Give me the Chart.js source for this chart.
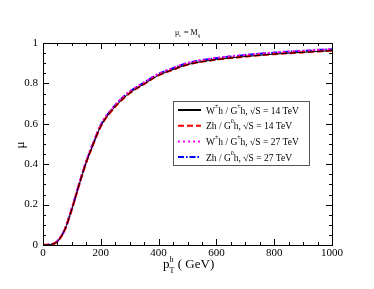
<!DOCTYPE html>
<html>
<head>
<meta charset="utf-8">
<script src="https://cdn.jsdelivr.net/npm/chart.js@4"></script>
<style>
  html, body { margin: 0; padding: 0; background: #fff; }
  #wrap { width: 374px; height: 289px; }
</style>
</head>
<body>
<div id="wrap"><canvas id="mu-chart" width="374" height="289"></canvas></div>
<script>
// pT of the Higgs (GeV)
const ptValues = [0, 25, 50, 75, 100, 125, 150, 175, 200, 250, 300, 350, 400, 450, 500, 600, 700, 800, 900, 1000];
// ratio mu
const wh14 = [0, 0.002, 0.018, 0.074, 0.178, 0.298, 0.41, 0.503, 0.588, 0.685, 0.752, 0.797, 0.84, 0.868, 0.893, 0.918, 0.933, 0.945, 0.954, 0.962];
const zh14 = [0, 0.002, 0.018, 0.074, 0.178, 0.298, 0.41, 0.503, 0.588, 0.685, 0.752, 0.797, 0.84, 0.868, 0.893, 0.918, 0.933, 0.945, 0.954, 0.962];
const wh27 = [0, 0.002, 0.019, 0.076, 0.181, 0.302, 0.415, 0.508, 0.594, 0.692, 0.759, 0.804, 0.847, 0.875, 0.9, 0.925, 0.94, 0.952, 0.961, 0.969];
const zh27 = [0, 0.002, 0.019, 0.076, 0.181, 0.302, 0.415, 0.508, 0.594, 0.692, 0.759, 0.804, 0.847, 0.875, 0.9, 0.925, 0.94, 0.952, 0.961, 0.969];

const xTicks = [0, 200, 400, 600, 800, 1000];
const yTicks = [0, 0.2, 0.4, 0.6, 0.8, 1];

// legend text pieces: base, sup, base, sup, base
const legendLabels = [
  ["W", "\u00b1", "h / G", "\u00b1", "h, \u221aS = 14 TeV"],
  ["Zh / G", "0", "h, \u221aS = 14 TeV"],
  ["W", "\u00b1", "h / G", "\u00b1", "h, \u221aS = 27 TeV"],
  ["Zh / G", "0", "h, \u221aS = 27 TeV"]
];

const serif = "'Liberation Serif', 'DejaVu Serif', serif";

function pts(arr) {
  return ptValues.map(function (x, i) { return { x: x, y: arr[i] }; });
}

// draws frame, inward ticks, legend and the titles
const decor = {
  id: 'decor',
  afterDatasetsDraw: function (chart) {
    const ctx = chart.ctx;
    const a = chart.chartArea;
    const xs = chart.scales.x, ys = chart.scales.y;
    ctx.save();
    ctx.strokeStyle = '#000';
    ctx.lineWidth = 1;
    ctx.setLineDash([]);
    ctx.strokeRect(a.left + 0.5, a.top + 0.5, a.right - a.left, a.bottom - a.top);

    ctx.beginPath();
    for (let v = 0; v <= 1000; v += 50) {
      const px = Math.round(xs.getPixelForValue(v)) + 0.5;
      const len = v % 200 === 0 ? 6 : 3;
      ctx.moveTo(px, a.bottom); ctx.lineTo(px, a.bottom - len);
      ctx.moveTo(px, a.top); ctx.lineTo(px, a.top + len);
    }
    for (let i = 0; i <= 20; i++) {
      const py = Math.round(ys.getPixelForValue(i * 0.05)) + 0.5;
      const len = i % 4 === 0 ? 6 : 3;
      ctx.moveTo(a.left, py); ctx.lineTo(a.left + len, py);
      ctx.moveTo(a.right, py); ctx.lineTo(a.right - len, py);
    }
    ctx.stroke();

    // legend box
    const bx = 173, by = 101, bw = 136, bh = 64;
    ctx.fillStyle = '#fff';
    ctx.fillRect(bx, by, bw, bh);
    ctx.strokeStyle = '#555';
    ctx.strokeRect(bx + 0.5, by + 0.5, bw, bh);
    chart.data.datasets.forEach(function (ds, i) {
      const y = 110 + i * 15.7;
      ctx.strokeStyle = ds.borderColor;
      ctx.lineWidth = 2;
      ctx.setLineDash(ds.borderDash || []);
      ctx.beginPath();
      ctx.moveTo(178, y); ctx.lineTo(201, y);
      ctx.stroke();
      ctx.setLineDash([]);
      ctx.fillStyle = '#000';
      ctx.textBaseline = 'middle';
      let x = 206;
      legendLabels[i].forEach(function (part, j) {
        const sup = j % 2 === 1;
        ctx.font = (sup ? '6px ' : '9.5px ') + serif;
        ctx.fillText(part, x, sup ? y - 4 : y + 1);
        x += ctx.measureText(part).width;
      });
    });

    // top title mu_r = M_ij
    ctx.fillStyle = '#000';
    ctx.textBaseline = 'alphabetic';
    ctx.font = '8px ' + serif;
    let tx = 175;
    ctx.fillText('\u03bc', tx, 35); tx += ctx.measureText('\u03bc').width;
    ctx.font = '5px ' + serif;
    ctx.fillText('r', tx, 37); tx += ctx.measureText('r').width + 1;
    ctx.font = '8px ' + serif;
    ctx.fillText(' = M', tx, 35); tx += ctx.measureText(' = M').width;
    ctx.font = '5px ' + serif;
    ctx.fillText('ij', tx, 37);

    // y title
    ctx.font = '13px ' + serif;
    ctx.save();
    ctx.translate(24, 145);
    ctx.rotate(-Math.PI / 2);
    ctx.textAlign = 'center';
    ctx.fillText('\u03bc', 0, 0);
    ctx.restore();

    // x title p_T^h ( GeV)
    let lx = 163;
    ctx.font = '13px ' + serif;
    ctx.fillText('p', lx, 268); lx += ctx.measureText('p').width;
    ctx.font = '8px ' + serif;
    ctx.fillText('h', lx, 262);
    ctx.fillText('T', lx, 273); lx += ctx.measureText('h').width + 1;
    ctx.font = '13px ' + serif;
    ctx.fillText(' ( GeV)', lx, 268);
    ctx.restore();
  }
};

new Chart(document.getElementById('mu-chart'), {
  type: 'line',
  data: {
    datasets: [
      { label: 'wh14', data: pts(wh14), borderColor: '#000000', borderWidth: 1, borderDash: [] },
      { label: 'zh14', data: pts(zh14), borderColor: '#ff0000', borderWidth: 2.2, borderDash: [6, 3] },
      { label: 'wh27', data: pts(wh27), borderColor: '#ff00ff', borderWidth: 2.5, borderDash: [2, 3] },
      { label: 'zh27', data: pts(zh27), borderColor: '#0000ff', borderWidth: 2, borderDash: [6, 2, 1.5, 2] }
    ]
  },
  options: {
    responsive: false,
    animation: false,
    events: [],
    layout: { padding: { top: 43, right: 42, left: 0, bottom: 0 } },
    elements: {
      point: { radius: 0 },
      line: { cubicInterpolationMode: 'monotone', fill: false }
    },
    plugins: { legend: { display: false }, title: { display: false }, tooltip: { enabled: false } },
    scales: {
      x: {
        type: 'linear', min: 0, max: 1000,
        afterFit: function (s) { s.height = 44; },
        afterBuildTicks: function (s) { s.ticks = xTicks.map(function (v) { return { value: v }; }); },
        grid: { display: false, drawTicks: false, tickLength: 0 },
        border: { display: false },
        ticks: { color: '#000', padding: 2, maxRotation: 0, font: { family: serif, size: 11 },
                 callback: function (v) { return String(v); } }
      },
      y: {
        min: 0, max: 1,
        afterFit: function (s) { s.width = 43; },
        afterBuildTicks: function (s) { s.ticks = yTicks.map(function (v) { return { value: v }; }); },
        grid: { display: false, drawTicks: false, tickLength: 0 },
        border: { display: false },
        ticks: { color: '#000', padding: 5, font: { family: serif, size: 11 },
                 callback: function (v) { return String(v); } }
      }
    }
  },
  plugins: [decor]
});
</script>
</body>
</html>
